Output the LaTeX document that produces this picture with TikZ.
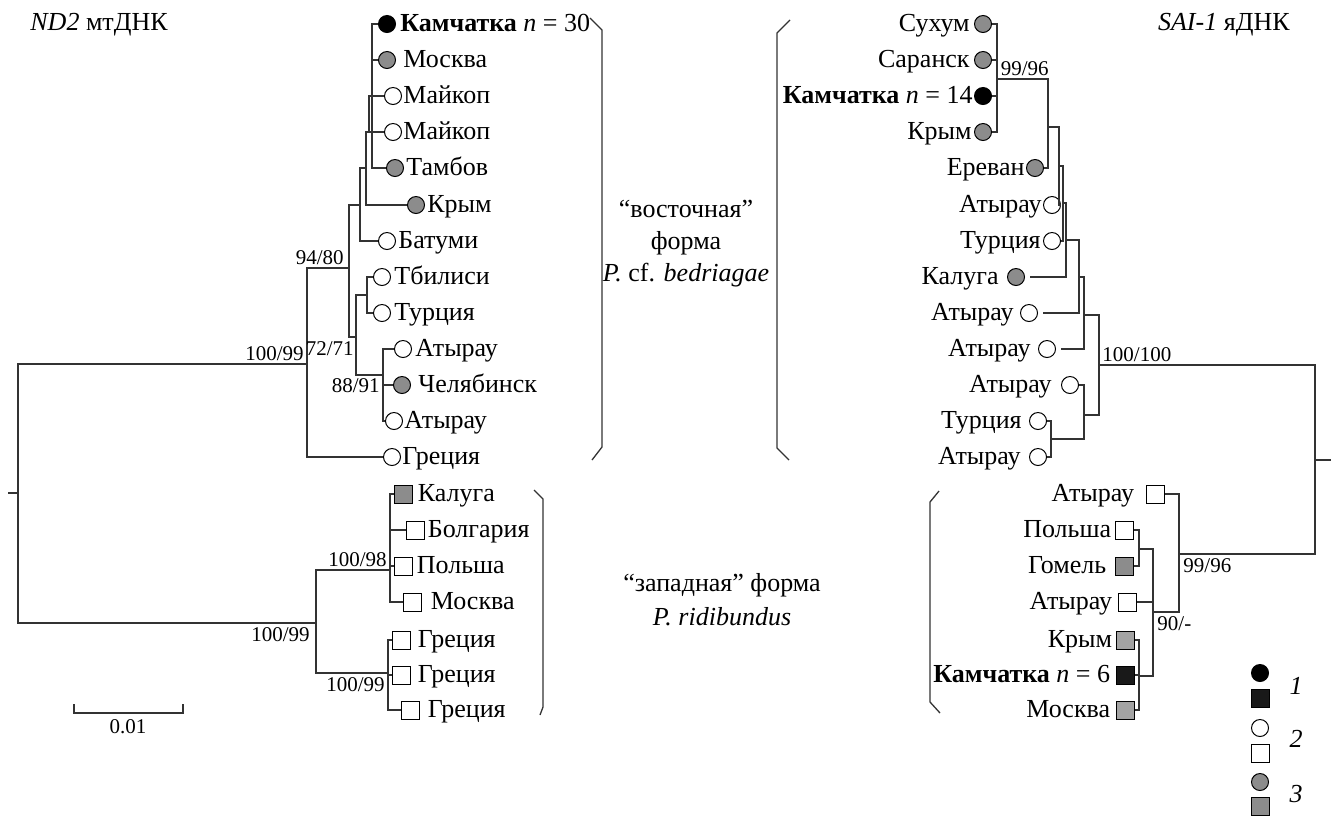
\documentclass[tikz,border=0pt]{standalone}
\usepackage{fontspec}
\setmainfont{Liberation Serif}
\usetikzlibrary{positioning}
\definecolor{grey3}{HTML}{8C8C8C}
\definecolor{lgrey3}{HTML}{A3A3A3}
\tikzset{
  br/.style={line width=0.65pt,black!80},
  sym/.style={draw=black,line width=0.5pt,inner sep=0pt},
  wcirc/.style={sym,circle,minimum size=8.5pt,fill=white},
  gcirc/.style={sym,circle,minimum size=8.5pt,fill=grey3},
  bcirc/.style={sym,circle,minimum size=8.5pt,fill=black},
  wsq/.style={sym,rectangle,minimum size=9pt,fill=white},
  gsq/.style={sym,rectangle,minimum size=9pt,fill=grey3},
  lsq/.style={sym,rectangle,minimum size=9pt,fill=lgrey3},
  bsq/.style={sym,rectangle,minimum size=9pt,fill=black!90},
  lt/.style={font=\fontsize{13}{15}\selectfont,inner sep=0pt,text height=9pt,text depth=2pt},
  bt/.style={font=\fontsize{10.5}{12}\selectfont,inner sep=0.5pt}
}
\begin{document}
\begin{tikzpicture}[x=0.5pt,y=-0.5pt]
    \useasboundingbox (0,0) rectangle (1331,816);
    \node[lt,anchor=west] (hnd)  at (30,23)   {\textit{ND2} мтДНК};
    \node[lt,anchor=east] (hsai) at (1290,23) {\textit{SAI-1} яДНК};
    % ND2, upper clade
    \node[bcirc] (lkam)  at (387,24)  {};  \node[lt,right=2pt of lkam]    (lkamt)  {\textbf{Камчатка} \textit{n} = 30};
    \node[gcirc] (lmos)  at (387,60)  {};  \node[lt,right=3.5pt of lmos]  (lmost)  {Москва};
    \node[wcirc] (lmai1) at (393,96)  {};  \node[lt,right=0.5pt of lmai1] (lmai1t) {Майкоп};
    \node[wcirc] (lmai2) at (393,132) {};  \node[lt,right=0.5pt of lmai2] (lmai2t) {Майкоп};
    \node[gcirc] (ltam)  at (395,168) {};  \node[lt,right=1pt of ltam]    (ltamt)  {Тамбов};
    \node[gcirc] (lkry)  at (416,205) {};  \node[lt,right=1pt of lkry]    (lkryt)  {Крым};
    \node[wcirc] (lbat)  at (387,241) {};  \node[lt,right=1pt of lbat]    (lbatt)  {Батуми};
    \node[wcirc] (ltbi)  at (382,277) {};  \node[lt,right=1.5pt of ltbi]  (ltbit)  {Тбилиси};
    \node[wcirc] (ltur)  at (382,313) {};  \node[lt,right=1.5pt of ltur]  (ltürt)  {Турция};
    \node[wcirc] (laty1) at (403,349) {};  \node[lt,right=1.5pt of laty1] (laty1t) {Атырау};
    \node[gcirc] (lche)  at (402,385) {};  \node[lt,right=3.5pt of lche]  (lchet)  {Челябинск};
    \node[wcirc] (laty2) at (394,421) {};  \node[lt,right=0.5pt of laty2] (laty2t) {Атырау};
    \node[wcirc] (lgre)  at (392,457) {};  \node[lt,right=0.5pt of lgre]  (lgret)  {Греция};
    % ND2, lower clade
    \node[gsq] (lkal)  at (403,494) {};  \node[lt,right=2.5pt of lkal]  (lkalt)  {Калуга};
    \node[wsq] (lbol)  at (415,530) {};  \node[lt,right=1.5pt of lbol]  (lbolt)  {Болгария};
    \node[wsq] (lpol)  at (403,566) {};  \node[lt,right=2pt of lpol]    (lpolt)  {Польша};
    \node[wsq] (lmosb) at (412,602) {};  \node[lt,right=4.5pt of lmosb] (lmosbt) {Москва};
    \node[wsq] (lgr1)  at (401,640) {};  \node[lt,right=3.5pt of lgr1]  (lgr1t)  {Греция};
    \node[wsq] (lgr2)  at (401,675) {};  \node[lt,right=3.5pt of lgr2]  (lgr2t)  {Греция};
    \node[wsq] (lgr3)  at (410,710) {};  \node[lt,right=4pt of lgr3]    (lgr3t)  {Греция};
    \coordinate (lstub) at (8,493);   \coordinate (lroot) at (18,493);
    \coordinate (la) at (307,364);    \coordinate (lb) at (349,268);
    \coordinate (lc) at (360,205);    \coordinate (le) at (366,168);
    \coordinate (lf) at (369,132);    \coordinate (lk) at (372,96);
    \coordinate (ld) at (356,337);    \coordinate (lg) at (367,295);
    \coordinate (lh) at (383,375);    \coordinate (lw) at (316,623);
    \coordinate (lp) at (390,570);    \coordinate (lq) at (388,673);
    \begin{scope}[br]
        \draw (lstub) -- (lroot);
        \draw (lroot) |- (la);  \draw (lroot) |- (lw);
        \draw (la) |- (lb);     \draw (la) |- (lgre);
        \draw (lb) |- (lc);     \draw (lb) |- (ld);
        \draw (lc) |- (le);     \draw (lc) |- (lbat);
        \draw (le) |- (lf);     \draw (le) |- (lkry);
        \draw (lf) |- (lk);     \draw (lf) |- (lmai2);
        \draw (lk) |- (lkam);   \draw (lk) |- (lmos);  \draw (lk) |- (lmai1);  \draw (lk) |- (ltam);
        \draw (ld) |- (lg);     \draw (ld) |- (lh);
        \draw (lg) |- (ltbi);   \draw (lg) |- (ltur);
        \draw (lh) |- (laty1);  \draw (lh) |- (lche);  \draw (lh) |- (laty2);
        \draw (lw) |- (lp);     \draw (lw) |- (lq);
        \draw (lp) |- (lkal);   \draw (lp) |- (lbol);  \draw (lp) |- (lpol);   \draw (lp) |- (lmosb);
        \draw (lq) |- (lgr1);   \draw (lq) |- (lgr2);  \draw (lq) |- (lgr3);
        % brackets
        \draw (590,18) -- (602,30) -- (602,447) -- (592,460);
        \draw (534,490) -- (543,499) -- (543,707) -- (540,715);
        % scale bar
        \draw (74,704) -- (74,713) -- (183,713) -- (183,704);
    \end{scope}
    \node[bt,anchor=south east] (lb1) at (305,362) {100/99};
    \node[bt,anchor=north east] (lb2) at (355,340) {72/71};
    \node[bt,anchor=south east] (lb3) at (345,266) {94/80};
    \node[bt,anchor=north east] (lb4) at (381,377) {88/91};
    \node[bt,anchor=south east] (lb5) at (388,568) {100/98};
    \node[bt,anchor=north east] (lb6) at (311,626) {100/99};
    \node[bt,anchor=north east] (lb7) at (386,676) {100/99};
    \node[bt] (lscale) at (128,727) {0.01};
    % forms
    \node[align=center,font=\fontsize{13}{16}\selectfont] (eastf) at (686,244) {“восточная”\\форма\\\textit{P.} cf. \textit{bedriagae}};
    \node[align=center,font=\fontsize{13}{17}\selectfont] (westf) at (722,600) {“западная” форма\\\textit{P. ridibundus}};
    % SAI-1, upper clade
    \node[gcirc] (rsuk)   at (983,24)   {};  \node[lt,left=2pt of rsuk]     (rsukt)   {Сухум};
    \node[gcirc] (rsar)   at (983,60)   {};  \node[lt,left=2pt of rsar]     (rsart)   {Саранск};
    \node[bcirc] (rkam)   at (983,96)   {};  \node[lt,left=0.5pt of rkam]   (rkamt)   {\textbf{Камчатка} \textit{n} = 14};
    \node[gcirc] (rkry)   at (983,132)  {};  \node[lt,left=1pt of rkry]     (rkryt)   {Крым};
    \node[gcirc] (ryer)   at (1035,168) {};  \node[lt,left=0.5pt of ryer]   (ryert)   {Ереван};
    \node[wcirc] (raty5)  at (1052,205) {};  \node[lt,left=0.5pt of raty5]  (raty5t)  {Атырау};
    \node[wcirc] (rtur6)  at (1052,241) {};  \node[lt,left=1pt of rtur6]    (rtur6t)  {Турция};
    \node[gcirc] (rkal)   at (1016,277) {};  \node[lt,left=4pt of rkal]     (rkalt)   {Калуга};
    \node[wcirc] (raty8)  at (1029,313) {};  \node[lt,left=3pt of raty8]    (raty8t)  {Атырау};
    \node[wcirc] (raty9)  at (1047,349) {};  \node[lt,left=3.5pt of raty9]  (raty9t)  {Атырау};
    \node[wcirc] (raty10) at (1070,385) {};  \node[lt,left=4.5pt of raty10] (raty10t) {Атырау};
    \node[wcirc] (rtur11) at (1038,421) {};  \node[lt,left=3.5pt of rtur11] (rtur11t) {Турция};
    \node[wcirc] (raty12) at (1038,457) {};  \node[lt,left=4pt of raty12]   (raty12t) {Атырау};
    % SAI-1, lower clade
    \node[wsq] (ratyb)  at (1155,494) {};  \node[lt,left=5.5pt of ratyb]  (ratybt)  {Атырау};
    \node[wsq] (rpol)   at (1124,530) {};  \node[lt,left=1.5pt of rpol]   (rpolt)   {Польша};
    \node[gsq] (rgom)   at (1124,566) {};  \node[lt,left=4pt of rgom]     (rgomt)   {Гомель};
    \node[wsq] (ratyb2) at (1127,602) {};  \node[lt,left=2.5pt of ratyb2] (ratyb2t) {Атырау};
    \node[lsq] (rkrb)   at (1125,640) {};  \node[lt,left=1.5pt of rkrb]   (rkrbt)   {Крым};
    \node[bsq] (rkamb)  at (1125,675) {};  \node[lt,left=2.5pt of rkamb]  (rkambt)  {\textbf{Камчатка} \textit{n} = 6};
    \node[lsq] (rmosb)  at (1125,710) {};  \node[lt,left=2.5pt of rmosb]  (rmosbt)  {Москва};
    \coordinate (rr1) at (997,79);    \coordinate (rr2) at (1048,127);
    \coordinate (rr3) at (1059,166);  \coordinate (rr4) at (1063,203);
    \coordinate (rr5) at (1066,240);  \coordinate (rr6) at (1079,277);
    \coordinate (rr7) at (1084,315);  \coordinate (rr8) at (1099,365);
    \coordinate (rr9) at (1084,415);  \coordinate (rr10) at (1051,439);
    \coordinate (rroot) at (1315,460); \coordinate (rstub) at (1331,460);
    \coordinate (rs) at (1179,554);   \coordinate (rq) at (1153,612);
    \coordinate (rp) at (1139,549);   \coordinate (rt) at (1139,676);
    \begin{scope}[br]
        \draw (rstub) -- (rroot);
        \draw (rroot) |- (rr8);  \draw (rroot) |- (rs);
        \draw (rr1) |- (rsuk);   \draw (rr1) |- (rsar);  \draw (rr1) |- (rkam);  \draw (rr1) |- (rkry);
        \draw (rr2) |- (rr1);    \draw (rr2) |- (ryer);
        \draw (rr3) |- (rr2);    \draw (rr3) |- (raty5);
        \draw (rr4) |- (rr3);    \draw (rr4) |- (rtur6);
        \draw (rr5) |- (rr4);    \draw[shorten >=2.5pt] (rr5) |- (rkal);
        \draw (rr6) |- (rr5);    \draw[shorten >=2.5pt] (rr6) |- (raty8);
        \draw (rr7) |- (rr6);    \draw[shorten >=2.5pt] (rr7) |- (raty9);
        \draw (rr8) |- (rr7);    \draw (rr8) |- (rr9);
        \draw (rr9) |- (raty10); \draw (rr9) |- (rr10);
        \draw (rr10) |- (rtur11); \draw (rr10) |- (raty12);
        \draw (rs) |- (ratyb);   \draw (rs) |- (rq);
        \draw (rq) |- (rp);      \draw (rq) |- (ratyb2); \draw (rq) |- (rt);
        \draw (rp) |- (rpol);    \draw (rp) |- (rgom);
        \draw (rt) |- (rkrb);    \draw (rt) |- (rkamb);  \draw (rt) |- (rmosb);
        % brackets
        \draw (790,20) -- (777,33) -- (777,448) -- (789,460);
        \draw (939,491) -- (930,502) -- (930,702) -- (940,713);
    \end{scope}
    \node[bt,anchor=south east] (rb1) at (1050,77)  {99/96};
    \node[bt,anchor=south west] (rb2) at (1101,363) {100/100};
    \node[bt,anchor=north west] (rb3) at (1182,557) {99/96};
    \node[bt,anchor=north west] (rb4) at (1156,615) {90/-};
    % legend
    \node[bcirc] (k1c) at (1260,673) {};  \node[bsq] (k1s) at (1260,698) {};
    \node[wcirc] (k2c) at (1260,728) {};  \node[wsq] (k2s) at (1260,753) {};
    \node[gcirc] (k3c) at (1260,782) {};  \node[gsq] (k3s) at (1260,806) {};
    \node[lt] (k1t) at (1296,687) {\textit{1}};
    \node[lt] (k2t) at (1296,740) {\textit{2}};
    \node[lt] (k3t) at (1296,795) {\textit{3}};
\end{tikzpicture}
\end{document}
